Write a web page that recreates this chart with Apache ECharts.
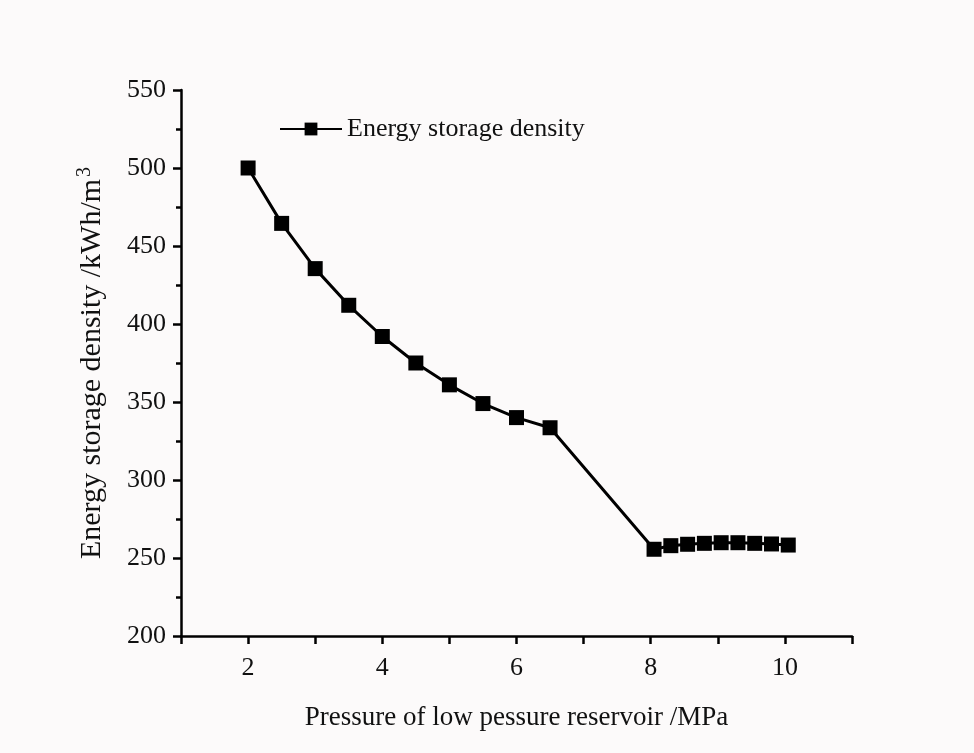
<!DOCTYPE html>
<html><head><meta charset="utf-8">
<script src="https://cdn.jsdelivr.net/npm/echarts@6/dist/echarts.min.js"></script>
<style>html,body{margin:0;padding:0;background:#fcfafa}#c{width:974px;height:753px}</style>
</head><body><div id="c"></div>
<script>
const pressure = [2, 2.5, 3, 3.5, 4, 4.5, 5, 5.5, 6, 6.5, 8.05, 8.3, 8.55, 8.8, 9.05, 9.3, 9.55, 9.8, 10.05];
const density = [500, 464.5, 435.5, 412, 392, 375, 361, 349, 340, 333.5, 255.6, 257.9, 258.8, 259.4, 259.8, 259.8, 259.4, 259, 258.3];
const seriesName = 'Energy storage density';
const xTitle = 'Pressure of low pessure reservoir /MPa';

const chart = echarts.init(document.getElementById('c'), null, {renderer: 'canvas'});
const font = 'Liberation Serif';
chart.setOption({
  backgroundColor: '#fcfafa',
  animation: false,
  grid: {left: 181, right: 122, top: 90, bottom: 117},
  legend: {
    left: 274, top: 111, itemWidth: 62, itemHeight: 16, itemGap: 6,
    textStyle: {fontFamily: font, fontSize: 26, color: '#111'},
    data: [seriesName]
  },
  xAxis: {
    type: 'value', min: 1, max: 11, interval: 1,
    name: xTitle, nameLocation: 'middle', nameGap: 68,
    nameTextStyle: {fontFamily: font, fontSize: 27, color: '#111'},
    axisLine: {lineStyle: {color: '#000', width: 2.5}},
    axisTick: {show: true, length: 8, lineStyle: {color: '#000', width: 2.5}},
    splitLine: {show: false},
    axisLabel: {fontFamily: font, fontSize: 26, color: '#111', margin: 19,
      formatter: function(v){ return (v % 2 === 0) ? String(v) : ''; }}
  },
  yAxis: {
    type: 'value', min: 200, max: 550, interval: 50,
    name: '{a|Energy storage density /kWh/m}{s|3}', nameLocation: 'middle', nameGap: 71,
    nameTextStyle: {fontFamily: font, fontSize: 30, color: '#111',
      rich: {a: {fontFamily: font, fontSize: 30, color: '#111'},
             s: {fontFamily: font, fontSize: 20, color: '#111', verticalAlign: 'top', padding: [0,0,15,2]}}},
    axisLine: {show: true, lineStyle: {color: '#000', width: 2.5}},
    axisTick: {show: true, length: 8, lineStyle: {color: '#000', width: 2.5}},
    minorTick: {show: true, splitNumber: 2, length: 5, lineStyle: {color: '#000', width: 2.5}},
    splitLine: {show: false},
    axisLabel: {fontFamily: font, fontSize: 26, color: '#111', margin: 15}
  },
  series: [{
    name: seriesName, type: 'line',
    data: pressure.map((x, i) => [x, density[i]]),
    symbol: 'rect', symbolSize: 15,
    lineStyle: {color: '#000', width: 3},
    itemStyle: {color: '#000'}
  }]
});
</script></body></html>
